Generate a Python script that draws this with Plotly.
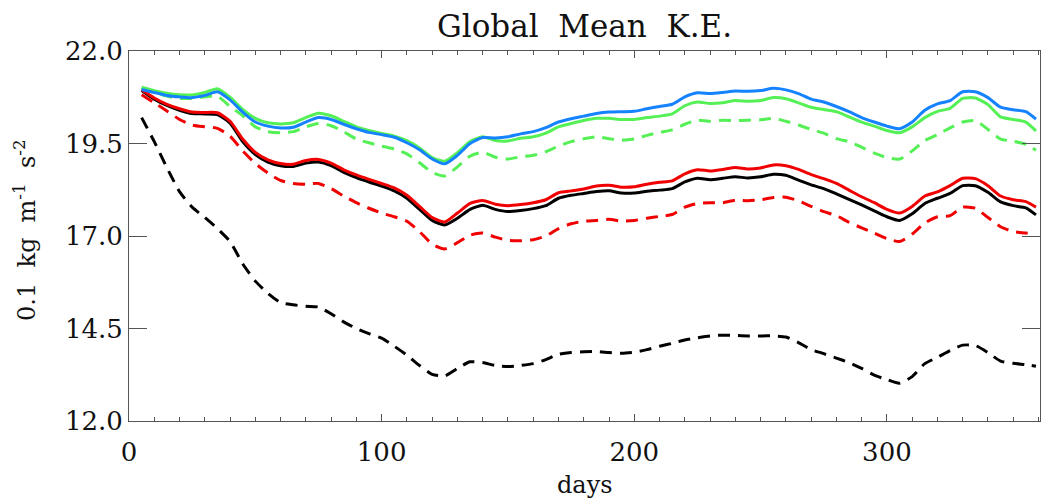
import plotly.graph_objects as go

days = list(range(5, 360, 5)) + [359]

blue_solid = [20.96, 20.88, 20.80, 20.76, 20.74, 20.80, 20.90, 20.68, 20.35, 20.08,
              19.97, 19.92, 19.94, 20.08, 20.20, 20.15, 20.02, 19.90, 19.80, 19.74,
              19.67, 19.52, 19.33, 19.08, 18.95, 19.18, 19.50, 19.66, 19.65, 19.68,
              19.76, 19.82, 19.93, 20.08, 20.17, 20.24, 20.31, 20.35, 20.36, 20.37,
              20.44, 20.50, 20.56, 20.76, 20.87, 20.85, 20.88, 20.92, 20.91, 20.93,
              20.99, 20.95, 20.85, 20.70, 20.62, 20.50, 20.36, 20.20, 20.08, 19.97,
              19.90, 20.08, 20.40, 20.57, 20.66, 20.90, 20.90, 20.74, 20.48, 20.41,
              20.36, 20.16]

green_solid = [21.02, 20.93, 20.86, 20.82, 20.81, 20.88, 20.98, 20.75, 20.42, 20.18,
               20.06, 20.03, 20.06, 20.20, 20.32, 20.25, 20.10, 19.95, 19.85, 19.77,
               19.70, 19.58, 19.38, 19.12, 19.02, 19.25, 19.55, 19.68, 19.58, 19.57,
               19.64, 19.68, 19.78, 19.95, 20.04, 20.12, 20.18, 20.18, 20.15, 20.15,
               20.20, 20.24, 20.30, 20.52, 20.62, 20.58, 20.60, 20.66, 20.64, 20.66,
               20.74, 20.71, 20.60, 20.48, 20.42, 20.36, 20.22, 20.08, 19.97, 19.85,
               19.79, 19.95, 20.20, 20.37, 20.45, 20.72, 20.73, 20.55, 20.22, 20.15,
               20.08, 19.84]

green_dashed = [21.00, 20.88, 20.78, 20.72, 20.72, 20.76, 20.78, 20.50, 20.25, 19.95,
                19.82, 19.79, 19.82, 19.95, 20.04, 19.98, 19.82, 19.62, 19.52, 19.43,
                19.35, 19.22, 18.98, 18.72, 18.62, 18.87, 19.16, 19.26, 19.13, 19.08,
                19.14, 19.18, 19.28, 19.43, 19.55, 19.63, 19.68, 19.63, 19.59, 19.62,
                19.72, 19.80, 19.87, 20.02, 20.13, 20.10, 20.13, 20.12, 20.13, 20.14,
                20.18, 20.10, 20.00, 19.88, 19.78, 19.63, 19.55, 19.40, 19.24, 19.12,
                19.08, 19.30, 19.58, 19.74, 19.92, 20.08, 20.12, 19.88, 19.62, 19.56,
                19.48, 19.32]

black_solid = [20.93, 20.70, 20.53, 20.40, 20.31, 20.30, 20.28, 20.05, 19.55, 19.20,
               19.00, 18.90, 18.88, 18.97, 19.00, 18.90, 18.72, 18.58, 18.46, 18.35,
               18.22, 18.02, 17.72, 17.42, 17.30, 17.48, 17.72, 17.83, 17.72, 17.66,
               17.69, 17.74, 17.82, 18.02, 18.10, 18.15, 18.20, 18.22, 18.16, 18.16,
               18.21, 18.24, 18.28, 18.46, 18.56, 18.52, 18.56, 18.60, 18.57, 18.60,
               18.67, 18.64, 18.51, 18.38, 18.28, 18.14, 17.99, 17.84, 17.68, 17.52,
               17.42, 17.60, 17.88, 18.02, 18.15, 18.36, 18.36, 18.18, 17.92, 17.82,
               17.76, 17.57]

red_solid = [20.95, 20.73, 20.56, 20.44, 20.35, 20.34, 20.33, 20.10, 19.62, 19.26,
             19.06, 18.96, 18.94, 19.04, 19.07, 18.97, 18.79, 18.65, 18.53, 18.42,
             18.30, 18.10, 17.80, 17.50, 17.38, 17.62, 17.88, 17.96, 17.86, 17.82,
             17.85, 17.90, 17.98, 18.17, 18.22, 18.27, 18.35, 18.37, 18.32, 18.33,
             18.40, 18.45, 18.49, 18.68, 18.79, 18.76, 18.80, 18.85, 18.81, 18.84,
             18.92, 18.90, 18.80, 18.66, 18.55, 18.42, 18.24, 18.06, 17.90, 17.72,
             17.62, 17.80, 18.08, 18.19, 18.36, 18.56, 18.55, 18.36, 18.08, 17.98,
             17.93, 17.78]

red_dashed = [20.82, 20.60, 20.38, 20.15, 20.00, 19.95, 19.91, 19.70, 19.30, 18.96,
              18.70, 18.50, 18.42, 18.40, 18.42, 18.28, 18.08, 17.90, 17.75, 17.62,
              17.52, 17.40, 17.12, 16.78, 16.65, 16.82, 17.02, 17.08, 16.97, 16.88,
              16.87, 16.90, 17.00, 17.20, 17.33, 17.40, 17.42, 17.45, 17.40, 17.42,
              17.48, 17.53, 17.58, 17.78, 17.88, 17.90, 17.90, 17.97, 17.95, 17.98,
              18.04, 18.05, 17.95, 17.80, 17.66, 17.55, 17.37, 17.22, 17.08, 16.93,
              16.85, 17.05, 17.35, 17.52, 17.55, 17.78, 17.75, 17.50, 17.25, 17.12,
              17.08, 17.06]

black_dashed = [20.20, 19.55, 18.85, 18.20, 17.78, 17.50, 17.20, 16.85, 16.25, 15.78,
                15.45, 15.20, 15.14, 15.10, 15.08, 14.90, 14.68, 14.50, 14.36, 14.24,
                14.02, 13.78, 13.50, 13.26, 13.22, 13.42, 13.60, 13.58, 13.50, 13.47,
                13.50, 13.55, 13.66, 13.80, 13.85, 13.87, 13.88, 13.85, 13.83, 13.86,
                13.93, 14.02, 14.10, 14.19, 14.25, 14.30, 14.32, 14.31, 14.30, 14.30,
                14.30, 14.27, 14.12, 13.93, 13.82, 13.70, 13.58, 13.42, 13.24, 13.12,
                13.02, 13.20, 13.55, 13.72, 13.90, 14.05, 14.04, 13.85, 13.62, 13.56,
                13.52, 13.48]

y_ticks = [12.0, 14.5, 17.0, 19.5, 22.0]
x_ticks = [0, 100, 200, 300]

BLACK = "#000000"
RED = "#f00000"
GREEN = "#55f055"
BLUE = "#1582ff"
DASH = "12px,8px"

series = [
    (black_dashed, BLACK, DASH),
    (red_dashed, RED, DASH),
    (green_dashed, GREEN, DASH),
    (black_solid, BLACK, "solid"),
    (red_solid, RED, "solid"),
    (green_solid, GREEN, "solid"),
    (blue_solid, BLUE, "solid"),
]

fig = go.Figure()
for vals, col, dash in series:
    fig.add_trace(go.Scatter(x=days, y=vals, mode="lines",
                             line=dict(color=col, width=3, dash=dash, shape="spline", smoothing=0.6),
                             showlegend=False, hoverinfo="skip"))

FONT = "DejaVu Serif"
axis_col = "#555555"
TXT = "#111111"

fig.update_layout(
    width=1041, height=500,
    margin=dict(l=129, r=1, t=51, b=79),
    paper_bgcolor="white", plot_bgcolor="white",
    font=dict(family=FONT, color=TXT),
    title=dict(text="Global  Mean  K.E.", x=(129 + 1040) / 2 / 1041, xanchor="center",
               y=1 - 26 / 500, yanchor="middle", yref="container",
               font=dict(family=FONT, size=31, color=TXT)),
    xaxis=dict(range=[0, 360.6], tickvals=x_ticks, ticktext=[str(v) for v in x_ticks],
               ticks="inside", ticklen=7, tickcolor=axis_col, tickwidth=1,
               minor=dict(dtick=10, tick0=0, ticks="inside", ticklen=4, tickcolor=axis_col, showgrid=False),
               showline=True, linecolor=axis_col, linewidth=1, mirror="allticks",
               showgrid=False, zeroline=False, ticklabelstandoff=8,
               tickfont=dict(family=FONT, size=26, color=TXT)),
    yaxis=dict(range=[12, 22], tickvals=y_ticks, ticktext=[f"{v:.1f}" for v in y_ticks],
               ticks="inside", ticklen=18, tickcolor=axis_col, tickwidth=1,
               showline=True, linecolor=axis_col, linewidth=1, mirror="allticks",
               showgrid=False, zeroline=False,
               tickfont=dict(family=FONT, size=26, color=TXT)),
    annotations=[
        dict(text="days", xref="paper", yref="paper", x=0.5, y=(421 - 485) / 370,
             xanchor="center", yanchor="middle", showarrow=False,
             font=dict(family=FONT, size=24, color=TXT)),
        dict(text="0.1  kg  m<sup>-1</sup>  s<sup>-2</sup>", xref="paper", yref="paper",
             x=(25 - 129) / 911, y=(421 - 230) / 370, textangle=-90,
             xanchor="center", yanchor="middle", showarrow=False,
             font=dict(family=FONT, size=24, color=TXT)),
    ],
)

fig.write_html("out.html")
